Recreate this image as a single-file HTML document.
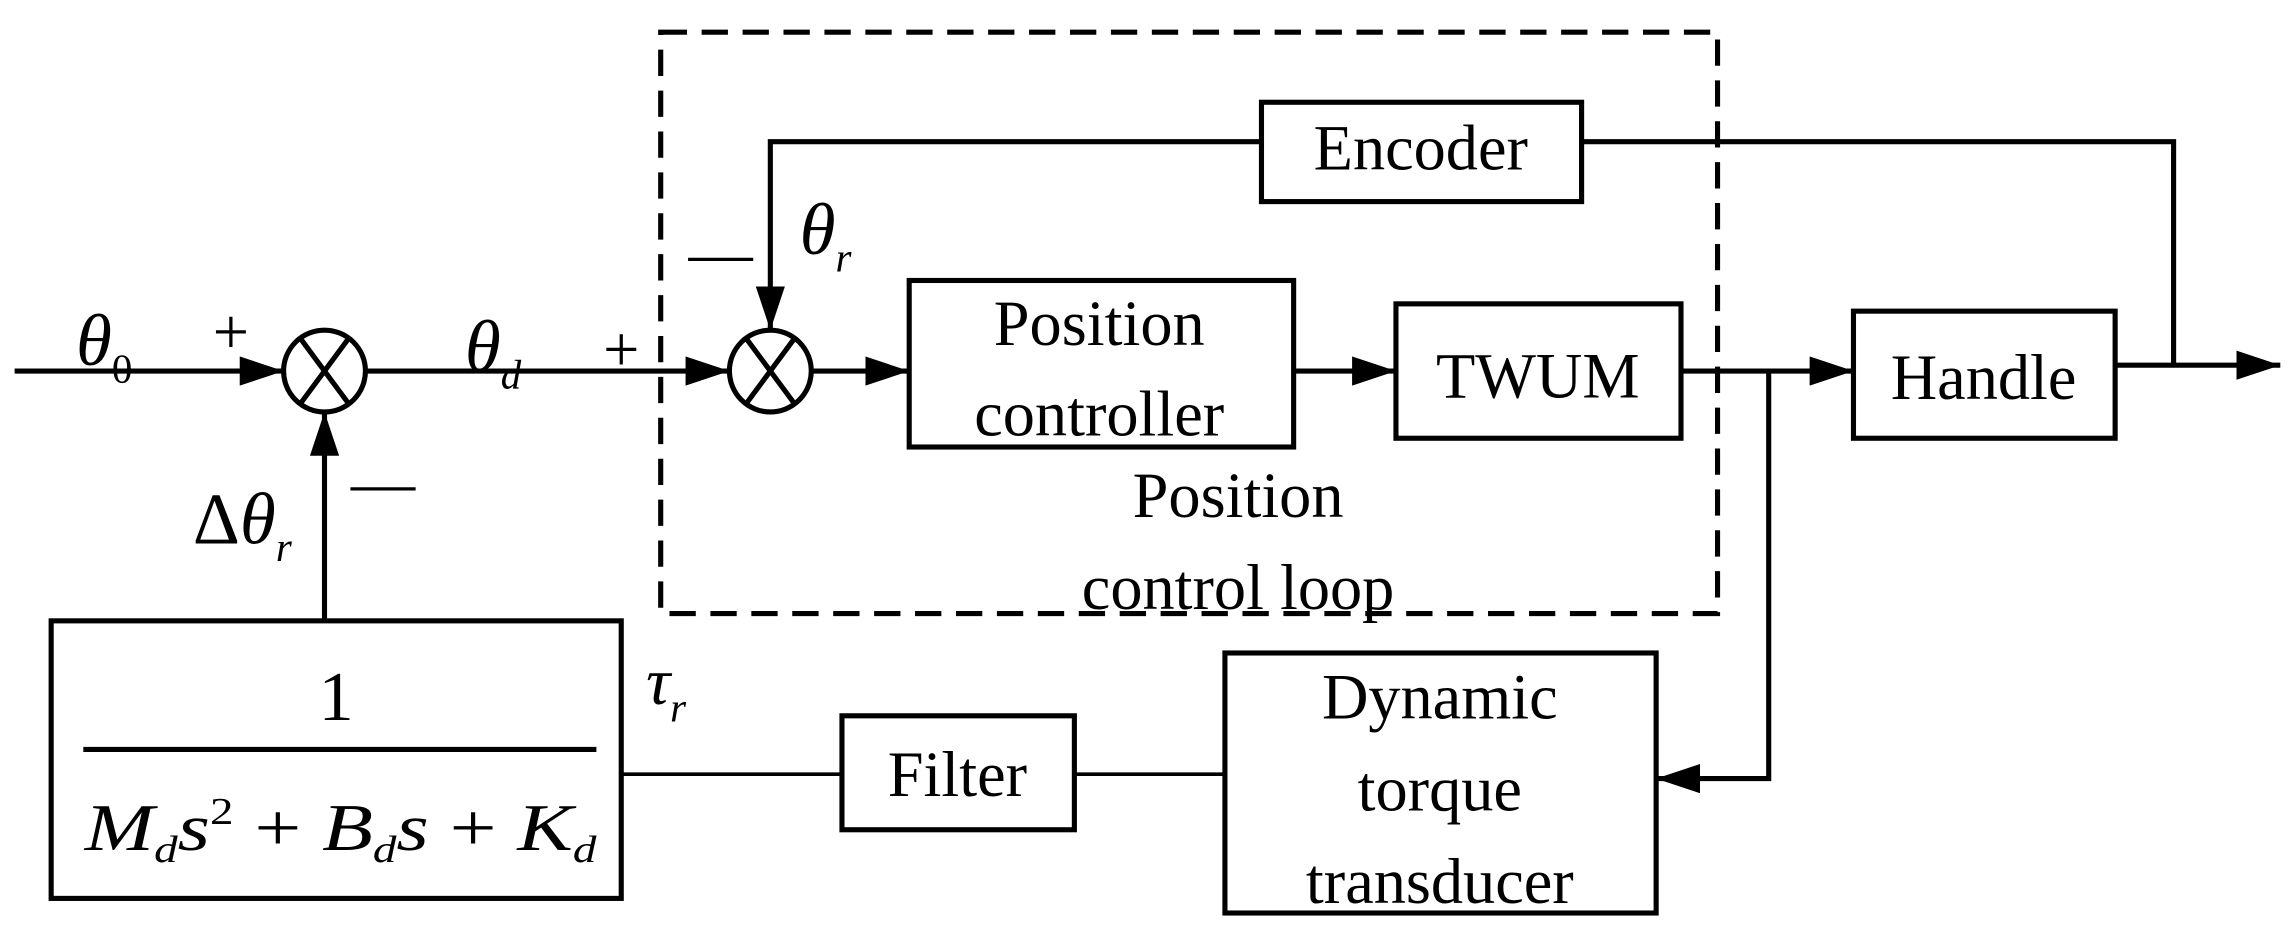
<!DOCTYPE html>
<html><head><meta charset="utf-8"><style>
html,body{margin:0;padding:0;background:#fff;}
svg{display:block;}
text{font-family:"Liberation Serif",serif;fill:#000;}
</style></head><body>
<svg width="2292" height="932" viewBox="0 0 1568 638" preserveAspectRatio="none" xmlns="http://www.w3.org/2000/svg">
<defs>
<marker id="b" markerWidth="30" markerHeight="20" refX="30" refY="10" orient="auto" markerUnits="userSpaceOnUse"><path d="M0,0 L30,10 L0,20z" fill="#000"/></marker></defs>
<g stroke="#000" stroke-width="3.5" fill="none">
<line x1="10" y1="254" x2="194" y2="254" marker-end="url(#b)"/>
<circle cx="222" cy="254" r="28"/>
<line x1="205" y1="231" x2="239" y2="277"/><line x1="239" y1="231" x2="205" y2="277"/>
<line x1="250" y1="254" x2="499" y2="254" marker-end="url(#b)"/>
<circle cx="527" cy="254" r="28"/>
<line x1="510" y1="231" x2="544" y2="277"/><line x1="544" y1="231" x2="510" y2="277"/>
<line x1="555" y1="254" x2="622" y2="254" marker-end="url(#b)"/>
<rect x="622" y="192" width="263" height="114"/>
<line x1="885" y1="254" x2="955" y2="254" marker-end="url(#b)"/>
<rect x="955" y="208" width="195" height="92"/>
<line x1="1150" y1="254" x2="1268" y2="254" marker-end="url(#b)"/>
<rect x="1268" y="213" width="179" height="87"/>
<line x1="1447" y1="250" x2="1560" y2="250" marker-end="url(#b)"/>
<rect x="863" y="70" width="219" height="68"/>
<polyline points="863,97 527,97 527,226" marker-end="url(#b)"/>
<polyline points="1082,97 1487,97 1487,250"/>
<polyline points="1210,254 1210,533 1133,533" marker-end="url(#b)"/>
<rect x="838" y="447" width="295" height="178"/>
<rect x="576" y="490" width="159" height="78"/>
<line x1="735" y1="530" x2="838" y2="530" stroke-width="2.5"/>
<line x1="425" y1="530" x2="576" y2="530" stroke-width="2.5"/>
<rect x="35" y="425" width="390" height="190"/>
<line x1="57" y1="513" x2="408" y2="513"/>
<line x1="222" y1="425" x2="222" y2="282" marker-end="url(#b)"/>
<rect x="452" y="22" width="723" height="398" stroke-dasharray="18,10"/>
</g>
<g font-size="44" text-anchor="middle">
<text x="752" y="236">Position</text>
<text x="752" y="298">controller</text>
<text x="1052" y="272">TWUM</text>
<text x="1357" y="273">Handle</text>
<text x="972" y="116">Encoder</text>
<text x="847" y="354">Position</text>
<text x="847" y="417">control loop</text>
<text x="655" y="545">Filter</text>
<text x="985" y="492">Dynamic</text>
<text x="985" y="555">torque</text>
<text x="985" y="618">transducer</text>
<text x="230" y="493" font-size="48">1</text>
</g>
<g font-size="50" font-style="italic">
<text x="52" y="250">θ<tspan font-size="28" dy="12" font-style="normal">0</tspan></text>
<text x="318" y="254">θ<tspan font-size="28" dy="12">d</tspan></text>
<text x="547" y="174">θ<tspan font-size="28" dy="12">r</tspan></text>
<text x="132" y="372"><tspan font-style="normal">Δ</tspan>θ<tspan font-size="28" dy="12">r</tspan></text>
<text x="442" y="482" font-size="46">τ<tspan font-size="28" dy="12">r</tspan></text>
<text x="58" y="582" font-size="46" textLength="350" lengthAdjust="spacingAndGlyphs">M<tspan font-size="26" dy="8">d</tspan><tspan dy="-8">s</tspan><tspan font-size="26" font-style="normal" dy="-18">2</tspan><tspan font-style="normal" dy="18"> + </tspan>B<tspan font-size="26" dy="8">d</tspan><tspan dy="-8">s</tspan><tspan font-style="normal"> + </tspan>K<tspan font-size="26" dy="8">d</tspan></text>
</g>
<g font-size="44" text-anchor="middle">
<text x="158" y="242">+</text>
<text x="425" y="254">+</text>
<text x="493" y="188">—</text>
<text x="262" y="345">—</text>
</g>
</svg>
</body></html>
